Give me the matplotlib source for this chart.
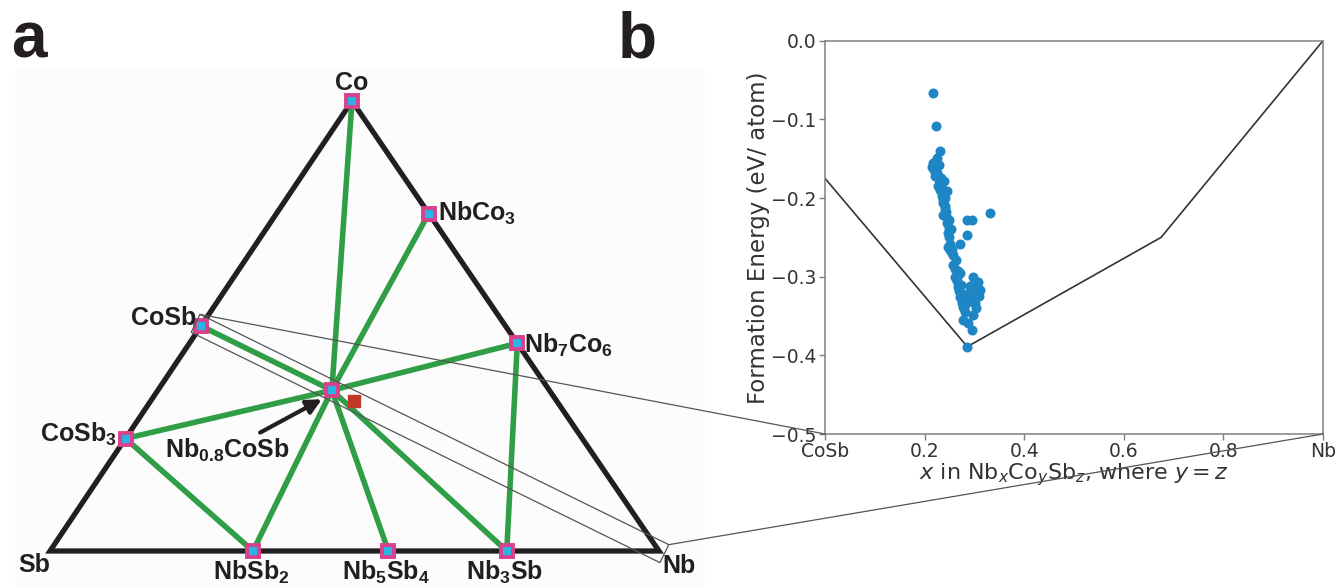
import matplotlib
matplotlib.use('Agg')
import matplotlib.pyplot as plt
from matplotlib.patches import Polygon, Rectangle, ConnectionPatch
import numpy as np

plt.rcParams['mathtext.default'] = 'regular'

# ---------------- data ----------------
# ternary phases: (label, Nb, Co, Sb)
phase_names = ['Co', 'NbCo3', 'Nb7Co6', 'CoSb', 'CoSb3', 'NbSb2', 'Nb5Sb4', 'Nb3Sb', 'Nb0.8CoSb']
phase_labels = ['Co', 'NbCo$_3$', 'Nb$_7$Co$_6$', 'CoSb', 'CoSb$_3$', 'NbSb$_2$',
                'Nb$_5$Sb$_4$', 'Nb$_3$Sb', 'Nb$_{0.8}$CoSb']
phase_nb = [0, 1, 7, 0, 0, 1, 5, 3, 0.8]
phase_co = [1, 3, 6, 1, 1, 0, 0, 0, 1]
phase_sb = [0, 0, 0, 1, 3, 2, 4, 1, 1]

# NbCoSb (red square)
halfheusler_comp = (1, 1, 1)

tie_lines = [('Nb0.8CoSb', 'Co'), ('Nb0.8CoSb', 'NbCo3'), ('Nb0.8CoSb', 'Nb7Co6'),
             ('Nb0.8CoSb', 'CoSb'), ('Nb0.8CoSb', 'CoSb3'), ('Nb0.8CoSb', 'NbSb2'),
             ('Nb0.8CoSb', 'Nb5Sb4'), ('Nb0.8CoSb', 'Nb3Sb'),
             ('CoSb3', 'NbSb2'), ('Nb7Co6', 'Nb3Sb')]

# panel b: convex hull along CoSb - Nb
hull_x = [0.0, 0.2857, 0.675, 1.0]
hull_y = [-0.175, -0.389, -0.250, 0.0]

# panel b: formation energies of sampled structures
fe_x = [0.216, 0.222, 0.231, 0.224, 0.217, 0.221, 0.225, 0.220, 0.228, 0.238,
        0.245, 0.234, 0.237, 0.241, 0.331, 0.285, 0.295, 0.237, 0.244, 0.247,
        0.251, 0.271, 0.285, 0.251, 0.264, 0.258, 0.271, 0.261, 0.298, 0.308,
        0.311, 0.305, 0.295, 0.301, 0.268, 0.271, 0.278, 0.288, 0.278, 0.298,
        0.288, 0.295, 0.286,
        0.226, 0.230, 0.240, 0.240, 0.245, 0.248, 0.250, 0.246, 0.255, 0.262,
        0.265, 0.270, 0.275, 0.280, 0.268, 0.232, 0.236, 0.243, 0.253, 0.258,
        0.266, 0.274, 0.283, 0.292, 0.300, 0.306, 0.303, 0.281, 0.276, 0.229,
        0.219, 0.227, 0.249, 0.256, 0.214, 0.233, 0.310, 0.302]
fe_y = [-0.067, -0.108, -0.140, -0.149, -0.155, -0.162, -0.168, -0.172, -0.177, -0.178,
        -0.191, -0.197, -0.206, -0.214, -0.219, -0.228, -0.228, -0.222, -0.232, -0.245,
        -0.258, -0.258, -0.247, -0.266, -0.279, -0.285, -0.295, -0.300, -0.300, -0.307,
        -0.317, -0.321, -0.327, -0.333, -0.313, -0.326, -0.338, -0.332, -0.355, -0.349,
        -0.359, -0.368, -0.389,
        -0.185, -0.190, -0.200, -0.210, -0.225, -0.238, -0.250, -0.262, -0.270, -0.290,
        -0.305, -0.318, -0.330, -0.340, -0.293, -0.183, -0.203, -0.218, -0.240, -0.273,
        -0.300, -0.310, -0.322, -0.312, -0.315, -0.312, -0.340, -0.345, -0.334, -0.158,
        -0.165, -0.172, -0.228, -0.265, -0.160, -0.175, -0.325, -0.318]

xtick_vals = [0.0, 0.2, 0.4, 0.6, 0.8, 1.0]
xtick_labels = ['CoSb', '0.2', '0.4', '0.6', '0.8', 'Nb']
ytick_vals = [-0.5, -0.4, -0.3, -0.2, -0.1, 0.0]

# ---------------- figure ----------------
W, H = 1340, 586
fig = plt.figure(figsize=(W / 100, H / 100), dpi=100)

# overlay axes in pixel units for panel a
axa = fig.add_axes([0, 0, 1, 1])
axa.set_xlim(0, W)
axa.set_ylim(H, 0)
axa.axis('off')

# triangle vertices (pixel positions of pure elements)
V_SB = np.array([50.0, 551.0])
V_NB = np.array([659.0, 551.0])
V_CO = np.array([352.0, 101.0])


def tern(nb, co, sb):
    t = nb + co + sb
    return (nb * V_NB + co * V_CO + sb * V_SB) / t


dark = '#231f20'
green = '#2f9e46'

axa.add_patch(Rectangle((15, 70), 690, 520, facecolor='#fcfcfc', edgecolor='none', zorder=0))

axa.add_patch(Polygon([V_SB, V_NB, V_CO], closed=True, fill=False, edgecolor=dark,
                      linewidth=3.8, joinstyle='miter', zorder=2))

pos = {n: tern(a, b, c) for n, a, b, c in zip(phase_names, phase_nb, phase_co, phase_sb)}

for p1, p2 in tie_lines:
    a, b = pos[p1], pos[p2]
    axa.plot([a[0], b[0]], [a[1], b[1]], color=green, linewidth=4.0, solid_capstyle='butt', zorder=3)

for n in phase_names:
    p = pos[n]
    axa.plot(p[0], p[1], marker='s', markersize=9, markerfacecolor='#2ab4e6',
             markeredgecolor='#d8418c', markeredgewidth=2.8, zorder=5)

hh = tern(*halfheusler_comp)
axa.plot(hh[0], hh[1], marker='s', markersize=8, color='#c0392b', zorder=5)

lab_kw = dict(fontsize=18, fontweight='bold', color=dark, family='Liberation Sans', zorder=6)
offsets = {
    'Co': (0, -6, 'center', 'bottom'),
    'NbCo3': (9, 0, 'left', 'center'),
    'Nb7Co6': (7, 2, 'left', 'center'),
    'CoSb': (-5, -8, 'right', 'center'),
    'CoSb3': (-9, -4, 'right', 'center'),
    'NbSb2': (-2, 8, 'center', 'top'),
    'Nb5Sb4': (-2, 8, 'center', 'top'),
    'Nb3Sb': (-2, 8, 'center', 'top'),
}
for n, lab in zip(phase_names, phase_labels):
    if n not in offsets:
        continue
    dx, dy, ha, va = offsets[n]
    p = pos[n]
    axa.text(p[0] + dx, p[1] + dy, lab, ha=ha, va=va, **lab_kw)

axa.text(V_SB[0] - 32, V_SB[1] + 2, 'Sb', ha='left', va='top', **lab_kw)
axa.text(V_NB[0] + 3, V_NB[1] + 3, 'Nb', ha='left', va='top', **lab_kw)

pm = pos['Nb0.8CoSb']
axa.annotate('Nb$_{0.8}$CoSb', xy=(pm[0] - 10, pm[1] + 9), xytext=(pm[0] - 167, pm[1] + 60),
             ha='left', va='center', **lab_kw,
             arrowprops=dict(arrowstyle='-|>', color=dark, lw=3.0, mutation_scale=22,
                             shrinkA=2, shrinkB=0))

# panel letters
axa.text(11, 58, 'a', fontsize=46, fontweight='bold', family='Liberation Sans', color=dark,
         ha='left', va='baseline')
axa.text(618, 58, 'b', fontsize=46, fontweight='bold', family='Liberation Sans', color=dark,
         ha='left', va='baseline')

# zoom rectangle along CoSb - Nb
pa, pb = pos['CoSb'], V_NB
u = (pb - pa) / np.linalg.norm(pb - pa)
nrm = np.array([u[1], -u[0]])
half = 10.0
c1 = pa - 6 * u + half * nrm
c2 = pa - 6 * u - half * nrm
c3 = pb + 6 * u - half * nrm
c4 = pb + 6 * u + half * nrm
axa.add_patch(Polygon([c1, c2, c3, c4], closed=True, fill=False, edgecolor='#555555',
                      linewidth=0.9, zorder=7))

# ---------------- panel b ----------------
L, R, T, B = 825, 1323, 40.7, 434
axb = fig.add_axes([L / W, (H - B) / H, (R - L) / W, (B - T) / H])
axb.plot(hull_x, hull_y, color='#333333', linewidth=1.2, zorder=2)
axb.scatter(fe_x, fe_y, s=52, color='#1f86c6', zorder=3, linewidths=0)
axb.set_xlim(0, 1)
axb.set_ylim(-0.5, 0.0)
axb.set_xticks(xtick_vals)
axb.set_xticklabels(xtick_labels)
axb.set_yticks(ytick_vals)
for s in axb.spines.values():
    s.set_color('#808080')
    s.set_linewidth(1.1)
axb.tick_params(colors='#808080', labelcolor='#333333', labelsize=13.5, length=4, width=1,
                pad=2)
axb.set_ylabel('Formation Energy (eV/ atom)', fontsize=16.5, color='#333333', labelpad=1)
xl = axb.set_xlabel(r'$\mathit{x}$ in Nb$_\mathit{x}$Co$_\mathit{y}$Sb$_\mathit{z}$, where $\mathit{y} = \mathit{z}$',
                    fontsize=16, color='#333333', labelpad=0)
xl.set_math_fontfamily('dejavusans')

# connector lines from zoom rectangle to panel b
for xy_b, corner in [((0.0, -0.5), c1), ((1.0, -0.5), c4)]:
    con = ConnectionPatch(xyA=xy_b, coordsA=axb.transData, xyB=tuple(corner), coordsB=axa.transData,
                          color='#555555', linewidth=0.9)
    fig.add_artist(con)

fig.savefig('out.png', dpi=100)
